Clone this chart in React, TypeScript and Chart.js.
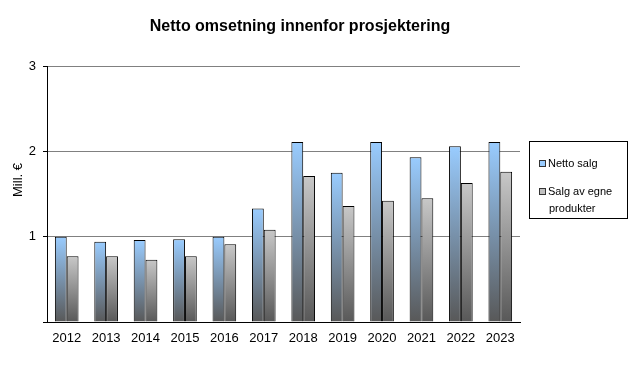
import React, { useEffect, useRef } from "react";
import { Chart, registerables } from "chart.js";

Chart.register(...registerables);

const years = ["2012", "2013", "2014", "2015", "2016", "2017", "2018", "2019", "2020", "2021", "2022", "2023"];
const nettoSalg = [1.0, 0.94, 0.96, 0.97, 1.0, 1.33, 2.11, 1.75, 2.11, 1.93, 2.06, 2.11];
const egneProdukter = [0.77, 0.77, 0.73, 0.77, 0.91, 1.08, 1.71, 1.36, 1.42, 1.45, 1.63, 1.76];
const titleText = "Netto omsetning innenfor prosjektering";
const yAxisTitle = "Mill. €";
const legendLabels = [["Netto salg"], ["Salg av egne", "produkter"]];

const FONT = "'Liberation Sans', Arial, sans-serif";

function gradientFill(top: string, bottom: string) {
  return (ctx: any) => {
    const chart = ctx.chart;
    const area = chart.chartArea;
    const yScale = chart.scales && chart.scales.y;
    if (!area || !yScale || ctx.raw == null) return top;
    const y0 = yScale.getPixelForValue(0);
    const y1 = yScale.getPixelForValue(ctx.raw);
    if (!isFinite(y0) || !isFinite(y1) || y0 === y1) return top;
    const g = chart.ctx.createLinearGradient(0, y1, 0, y0);
    g.addColorStop(0, top);
    g.addColorStop(1, bottom);
    return g;
  };
}

const customPlugin = {
  id: "customDecor",
  afterDraw(chart: any) {
    const c = chart.ctx;
    c.save();
    // title
    c.fillStyle = "#000";
    c.font = `bold 16px ${FONT}`;
    c.textAlign = "center";
    c.textBaseline = "middle";
    c.fillText(titleText, 300, 27);
    // y axis title
    c.save();
    c.translate(18, 180);
    c.rotate(-Math.PI / 2);
    c.font = `13px ${FONT}`;
    c.fillText(yAxisTitle, 0, 0);
    c.restore();
    // legend box
    c.strokeStyle = "#000";
    c.lineWidth = 1;
    c.strokeRect(529.5, 141.5, 98, 77);
    const colors = ["#99CCFF", "#C0C0C0"];
    const rowsY = [164, 192];
    c.font = `11px ${FONT}`;
    c.textAlign = "left";
    for (let i = 0; i < legendLabels.length; i++) {
      const y = rowsY[i];
      c.fillStyle = colors[i];
      c.fillRect(539, y - 4, 7, 7);
      c.strokeStyle = "#333";
      c.strokeRect(539.5, y - 3.5, 6, 6);
      c.fillStyle = "#000";
      legendLabels[i].forEach((line, j) => {
        c.fillText(line, 548 + (j > 0 ? 1 : 0), y + j * 17);
      });
    }
    c.restore();
  },
};

export default function App() {
  const ref = useRef<HTMLCanvasElement | null>(null);
  useEffect(() => {
    document.body.style.margin = "0";
    const canvas = ref.current;
    if (!canvas) return;
    const chart = new Chart(canvas, {
      type: "bar",
      data: {
        labels: years,
        datasets: [
          {
            label: legendLabels[0].join(" "),
            data: nettoSalg,
            backgroundColor: gradientFill("#99CCFF", "#585858"),
            borderColor: "#000",
            borderWidth: 1,
            categoryPercentage: 0.6,
            barPercentage: 1.0,
          },
          {
            label: legendLabels[1].join(" "),
            data: egneProdukter,
            backgroundColor: gradientFill("#C8C8C8", "#585858"),
            borderColor: "#000",
            borderWidth: 1,
            categoryPercentage: 0.6,
            barPercentage: 1.0,
          },
        ],
      },
      options: {
        responsive: false,
        animation: false,
        devicePixelRatio: 1,
        layout: { padding: { left: 0, top: 66, right: 119, bottom: 0 } },
        plugins: {
          legend: { display: false },
          title: { display: false },
          tooltip: { enabled: false },
        },
        scales: {
          x: {
            grid: { display: false, drawTicks: false },
            border: { color: "#000", width: 1 },
            ticks: {
              color: "#000",
              font: { family: FONT, size: 13 },
              padding: 9,
              maxRotation: 0,
              autoSkip: false,
            },
            afterFit: (s: any) => {
              s.height = 43;
            },
          },
          y: {
            min: 0,
            max: 3,
            grid: { color: "#808080", tickColor: "#000", tickLength: 4, drawTicks: true },
            border: { color: "#000", width: 1 },
            ticks: {
              stepSize: 1,
              color: "#000",
              font: { family: FONT, size: 13 },
              padding: 7,
              callback: (v: any) => (v === 0 ? "" : String(v)),
            },
            afterFit: (s: any) => {
              s.width = 47;
            },
          },
        },
      },
      plugins: [customPlugin],
    });
    return () => chart.destroy();
  }, []);
  return <canvas ref={ref} width={639} height={365} style={{ display: "block" }} />;
}
